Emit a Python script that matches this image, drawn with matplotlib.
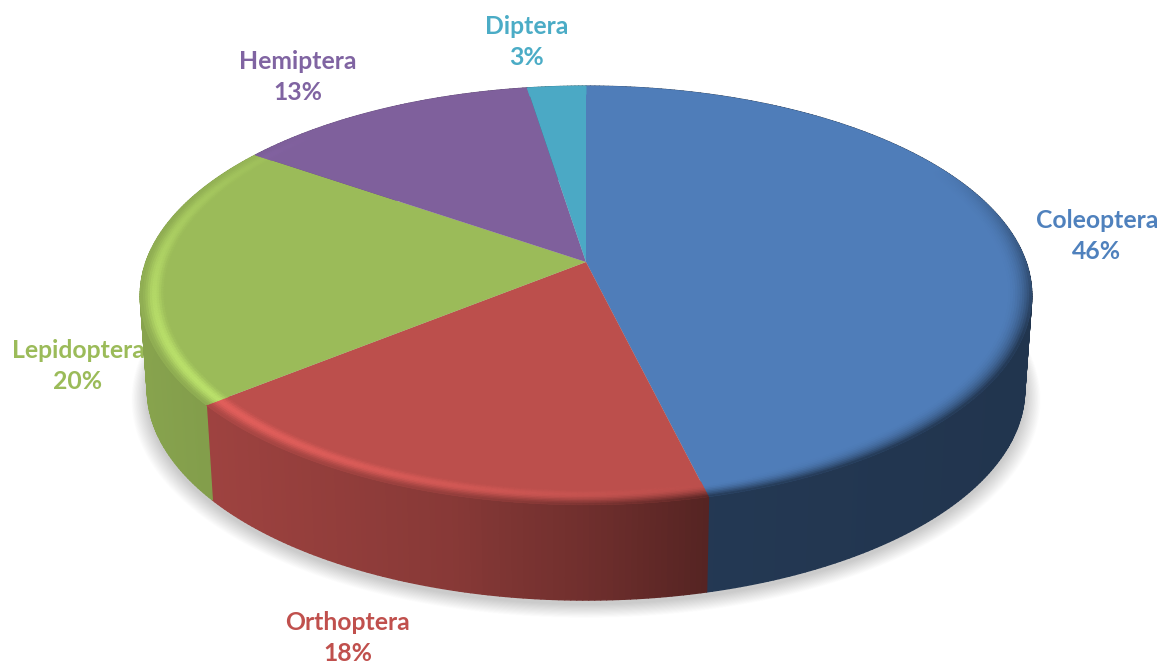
import numpy as np
import matplotlib
matplotlib.use('Agg')
import matplotlib.pyplot as plt
from matplotlib.collections import PolyCollection

orders = ['Coleoptera', 'Orthoptera', 'Lepidoptera', 'Hemiptera', 'Diptera']
shares = [46, 18, 20, 13, 3]
top_colors = ['#4F7DB9', '#BC4F4C', '#9BBB59', '#7F609C', '#4BA9C5']
text_colors = ['#4F81BD', '#C0504D', '#9BBB59', '#8064A2', '#4BACC6']
label_x = [1097, 348, 78, 298, 527]
label_y = [236, 638, 366, 77, 42]

CX, CY = 586, 262


def warp(theta):
    # the 3d view bends the slice angles a little
    deg = np.degrees(theta)
    return theta + np.radians(np.interp(deg, [0, 165.6, 230.4, 302.4, 349.2, 360],
                                        [0, 0.8, 0.5, 2.5, 1.9, 0]))


def project(theta, r=1.0, lower=False):
    # tilted circle -> screen pixels, theta clockwise from 12 o'clock
    theta = warp(theta)
    x = r * np.sin(theta)
    y = r * np.cos(theta)
    w = 1 + 0.16 * y
    if lower:
        return CX + 433 * x / w, CY + 94 - 205 * y / w
    return CX + 440 * x / w, CY - 204 * y / w


def side_factor(sx):
    return np.interp(sx, [146, 210, 450, 600, 710, 1030],
                     [0.87, 0.84, 0.72, 0.58, 0.45, 0.42])


fig = plt.figure(figsize=(11.62, 6.64), dpi=100)
ax = fig.add_axes([0, 0, 1, 1])
ax.set_xlim(0, 1162)
ax.set_ylim(664, 0)
ax.axis('off')

# soft shadow under the disc
tt = np.linspace(0, 2 * np.pi, 240)
for i in range(26):
    sx, sy = project(tt, lower=True)
    grow = 1 + (26 - i) * 0.0014
    sx = CX + (sx - CX) * grow
    sy = CY + 94 + (sy - CY - 94) * grow + 9 - i * 0.2
    ax.fill(sx, sy, color='black', alpha=0.0062, lw=0, zorder=1)

edges = np.cumsum([0] + shares) / 100 * 2 * np.pi

for i, (start, stop) in enumerate(zip(edges[:-1], edges[1:])):
    base = np.array(matplotlib.colors.to_rgb(top_colors[i]))
    n = max(int(np.degrees(stop - start) * 1.5), 6)
    th = np.linspace(start, stop, n + 1)

    # outer wall
    quads, cols = [], []
    tx, ty = project(th)
    bx, by = project(th, lower=True)
    for j in range(n):
        quads.append([(tx[j], ty[j]), (tx[j + 1], ty[j + 1]),
                      (bx[j + 1], by[j + 1]), (bx[j], by[j])])
        cols.append(base * side_factor((tx[j] + tx[j + 1]) / 2))
    ax.add_collection(PolyCollection(quads, facecolors=cols, edgecolors=cols,
                                     linewidths=1.0, zorder=2))

    # flat top
    px, py = project(th)
    ax.fill(np.r_[CX, px], np.r_[CY, py], color=top_colors[i], lw=0, zorder=3)

    # bevel along the rim
    radii = np.linspace(0.945, 1.0, 12)
    quads, cols = [], []
    for j in range(n):
        mid = (th[j] + th[j + 1]) / 2
        deg = np.degrees(mid)
        h = max(0.0, np.cos(np.radians(deg - 228))) ** 1.5
        sx_mid = project(mid)[0]
        dark = np.interp(deg, [0, 60, 85, 110, 165, 230, 280, 310, 360],
                         [0, 0, 0.5, 1, 1, 0.6, 0.6, 0, 0])
        for k in range(len(radii) - 1):
            t = (k + 0.5) / (len(radii) - 1)
            col = base * (1 + 0.26 * h * np.sin(np.pi * t) ** 2)
            col = np.clip(col, 0, 1)
            col = col + (base * side_factor(sx_mid) - col) * dark * t ** 2
            ax1, ay1 = project(th[j], radii[k])
            ax2, ay2 = project(th[j + 1], radii[k])
            bx1, by1 = project(th[j + 1], radii[k + 1])
            bx2, by2 = project(th[j], radii[k + 1])
            quads.append([(ax1, ay1), (ax2, ay2), (bx1, by1), (bx2, by2)])
            cols.append(col)
    ax.add_collection(PolyCollection(quads, facecolors=cols, edgecolors=cols,
                                     linewidths=0.5, zorder=4))

for name, val, col, lx, ly in zip(orders, shares, text_colors, label_x, label_y):
    ax.text(lx, ly, f'{name}\n{val}%', color=col, ha='center', va='center',
            fontsize=17.8, fontweight='bold', family='Lato', linespacing=1.38,
            zorder=1.5)

fig.savefig('out.png', dpi=100)
